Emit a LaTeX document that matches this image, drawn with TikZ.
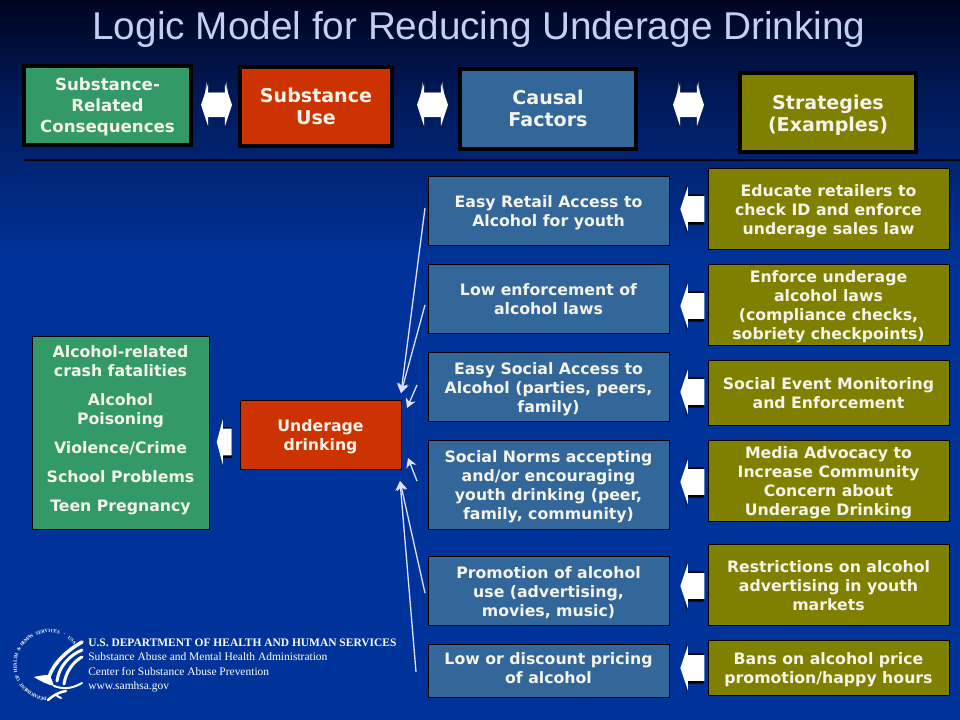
\documentclass[tikz,border=0pt]{standalone}
\usepackage{fontspec}
\setmainfont{DejaVu Sans}
\newfontfamily\titlefont{Liberation Sans}
\newfontfamily\logofont{Liberation Serif}
\usetikzlibrary{arrows.meta,shapes.arrows,calc}
\newcommand{\s}{0.75pt}
\definecolor{seagreen}{HTML}{339966}
\definecolor{brick}{HTML}{CC3300}
\definecolor{steel}{HTML}{336699}
\definecolor{olivebox}{HTML}{808000}
\definecolor{ink}{HTML}{F4F4EA}
\definecolor{titleblue}{HTML}{C3D0F2}
\definecolor{bgtop}{RGB}{0,4,32}
\definecolor{bgmid}{RGB}{0,26,90}
\definecolor{bgbot}{RGB}{0,51,153}
\newcommand{\blockleft}[3]{%
    \node[spike, shape border rotate=180] (#1-back) at ($(#2,#3)+(1.5,0.5)$) {};
    \node[whitespike, shape border rotate=180] (#1) at ($(#2,#3)+(1.5,0)$) {};
}
\newcommand{\blockboth}[3]{%
    \node[twospike] (#1-back) at (#2,#3) {};
    \node[whitetwospike] (#1) at (#2,#3) {};
}

\begin{document}
\begin{tikzpicture}[x=\s, y=-\s,
    box/.style={draw=black, line width=1*\s, outer sep=0pt, anchor=north west, inner sep=0pt, align=center, text depth=0pt, yshift=-0.4pt, text=ink, font=\fontsize{11.8pt}{14.25pt}\selectfont\bfseries},
    head/.style={box, line width=4*\s, font=\fontsize{14.3pt}{16.5pt}\selectfont\bfseries},
    spike/.style={single arrow, fill=black, inner xsep=0pt, inner ysep=12.8*\s, minimum height=20*\s, minimum width=52*\s, single arrow tip angle=167},
    whitespike/.style={single arrow, fill=white, inner xsep=0pt, inner ysep=12.5*\s, minimum height=24*\s, minimum width=30*\s, single arrow tip angle=143},
    twospike/.style={double arrow, top color=white, bottom color=black, inner xsep=0pt, inner ysep=11.5*\s, minimum height=26*\s, minimum width=46*\s, double arrow tip angle=165},
    whitetwospike/.style={double arrow, fill=white, inner xsep=0pt, inner ysep=11.5*\s, minimum height=31*\s, minimum width=30*\s, double arrow tip angle=143},
    wire/.style={draw=white!88!blue, line width=1.3*\s, -{Stealth[length=7pt,width=8pt]}},
    eagle/.style={draw=white, line cap=round}]
    \useasboundingbox (0,0) rectangle (960,720);
    % Background
    \fill[top color=bgtop, bottom color=bgmid] (0,0) rectangle (960,100);
    \fill[top color=bgmid, bottom color=bgbot] (0,100) rectangle (960,260);
    \fill[bgbot] (0,260) rectangle (960,720);

    % Title
    \node[text=titleblue, font=\titlefont\fontsize{29.06pt}{36pt}\selectfont, inner sep=0pt] (title) at (479,29) {Logic Model for Reducing Underage Drinking};

    % Header row
    \node[head, fill=seagreen, minimum width=167*\s, minimum height=79*\s, font=\fontsize{12.5pt}{15.9pt}\selectfont\bfseries] (consequences) at (24,65) {Substance-\\Related\\Consequences};
    \node[head, fill=brick, minimum width=152*\s, minimum height=79*\s] (use) at (240,66) {Substance\\Use};
    \node[head, fill=steel, minimum width=176*\s, minimum height=80*\s] (causal) at (460,68) {Causal\\Factors};
    \node[head, fill=olivebox, minimum width=176*\s, minimum height=79*\s] (strategies) at (740,72) {\mbox{}\\[-3.7pt]Strategies\\(Examples)};
    \blockboth{link-1}{216.5}{105}
    \blockboth{link-2}{432.5}{105}
    \blockboth{link-3}{688.5}{105}
    \coordinate (rule-l) at (24,160);
    \coordinate (rule-r) at (960,160);
    \draw[black, line width=2.5*\s] (rule-l) -- (rule-r);

    % Left side
    \node[box, fill=seagreen, minimum width=177*\s, minimum height=193*\s] (outcomes) at (32,336) {Alcohol-related\\crash fatalities\\[7.5pt]Alcohol\\Poisoning\\[7.5pt]Violence/Crime\\[7.5pt]School Problems\\[7.5pt]Teen Pregnancy\\[-8pt]\mbox{}};
    \node[box, fill=brick, minimum width=161*\s, minimum height=69*\s] (drinking) at (240,400) {Underage\\drinking};
    \node[spike, shape border rotate=180, minimum height=11*\s, inner ysep=13.5*\s, single arrow tip angle=171] (out-arrow-back) at (227,442.5) {};
    \node[whitespike, shape border rotate=180, minimum height=15*\s, inner ysep=13*\s, single arrow tip angle=150] (out-arrow) at (226,442) {};

    % Causal factors
    \node[box, fill=steel, minimum width=241*\s, minimum height=69*\s] (retail) at (428,176) {Easy Retail Access to\\Alcohol for youth};
    \node[box, fill=steel, minimum width=241*\s, minimum height=69*\s] (enforce) at (428,264) {Low enforcement of\\alcohol laws};
    \node[box, fill=steel, minimum width=241*\s, minimum height=69*\s] (social) at (428,352) {Easy Social Access to\\Alcohol (parties, peers,\\family)};
    \node[box, fill=steel, minimum width=241*\s, minimum height=89*\s] (norms) at (428,440) {Social Norms accepting\\and/or encouraging\\youth drinking (peer,\\family, community)};
    \node[box, fill=steel, minimum width=241*\s, minimum height=69*\s] (promo) at (428,556) {Promotion of alcohol\\use (advertising,\\movies, music)};
    \node[box, fill=steel, minimum width=241*\s, minimum height=53*\s] (pricing) at (428,644) {Low or discount pricing\\of alcohol\\[-10pt]\mbox{}};

    % Strategies
    \node[box, fill=olivebox, minimum width=241*\s, minimum height=81*\s] (educate) at (708,168) {Educate retailers to\\check ID and enforce\\underage sales law};
    \node[box, fill=olivebox, minimum width=241*\s, minimum height=81*\s] (laws) at (708,264) {Enforce underage\\alcohol laws\\(compliance checks,\\sobriety checkpoints)};
    \node[box, fill=olivebox, minimum width=241*\s, minimum height=65*\s] (monitor) at (708,360) {Social Event Monitoring\\and Enforcement};
    \node[box, fill=olivebox, minimum width=241*\s, minimum height=81*\s] (media) at (708,440) {Media Advocacy to\\Increase Community\\Concern about\\Underage Drinking};
    \node[box, fill=olivebox, minimum width=241*\s, minimum height=81*\s] (restrict) at (708,544) {Restrictions on alcohol\\advertising in youth\\markets};
    \node[box, fill=olivebox, minimum width=241*\s, minimum height=55*\s] (bans) at (708,640) {Bans on alcohol price\\promotion/happy hours};

    % Block arrows
    \blockleft{arrow-1}{693}{209}
    \blockleft{arrow-2}{693}{306}
    \blockleft{arrow-3}{693}{392}
    \blockleft{arrow-4}{693}{482}
    \blockleft{arrow-5}{693}{586}
    \blockleft{arrow-6}{693}{668}

    % Thin arrows
    \coordinate (tip-a) at (401,393);
    \coordinate (tip-b) at (407,408);
    \coordinate (tip-c) at (408,458);
    \coordinate (tip-d) at (400,481);
    \coordinate (from-a) at (425,208);
    \coordinate (from-b) at (425,305);
    \coordinate (from-c) at (417,385);
    \coordinate (from-d) at (417,481);
    \coordinate (from-e) at (425,593);
    \coordinate (from-f) at (416,672);
    \draw[wire] (from-a) -- (tip-a);
    \draw[wire] (from-b) -- (tip-a);
    \draw[wire] (from-c) -- (tip-b);
    \draw[wire] (from-d) -- (tip-c);
    \draw[wire] (from-e) -- (tip-d);
    \draw[wire] (from-f) -- (tip-d);

    % Logo
    \foreach \c [count=\i, evaluate=\i as \a using 97+221*(\i-1)/42] in {D,E,P,A,R,T,M,E,N,T,{},O,F,{},H,E,A,L,T,H,{},\&,{},H,U,M,A,N,{},S,E,R,V,I,C,E,S,{},-,{},U,S,A}
        \node[text=white, inner sep=0pt, rotate=-\a-90, font=\logofont\bfseries\fontsize{3.6pt}{4pt}\selectfont] (ring-\i) at ({49+34*cos(\a)},{665+34*sin(\a)}) {\c};
    \draw[eagle, line width=3.5*\s] (82,642) .. controls (68,650) and (54,662) .. (49,677);
    \fill[white] (34,677) .. controls (42,675) and (47,675) .. (50,675) -- (54,686) .. controls (46,684) and (40,681) .. (34,677) -- cycle;
    \draw[eagle, line width=3*\s] (82,650) .. controls (70,655) and (59,666) .. (57,681);
    \draw[eagle, line width=3*\s] (82,657) .. controls (74,661) and (66,671) .. (64,684);
    \draw[eagle, line width=2*\s] (54,686) .. controls (65,690) and (73,688) .. (82,683);
    \draw[eagle, line width=2.5*\s] (66,691) .. controls (60,692) and (55,694) .. (48,700);
    \draw[eagle, line width=2*\s] (56,694) .. controls (57,696) and (58,697) .. (61,698);
    \node[anchor=west, inner sep=0pt, align=left, text=white, font=\logofont\fontsize{8.6pt}{10.6pt}\selectfont] (agency) at (88,665.5) {{\bfseries U.S. DEPARTMENT OF HEALTH AND HUMAN SERVICES}\\Substance Abuse and Mental Health Administration\\Center for Substance Abuse Prevention\\www.samhsa.gov};
\end{tikzpicture}
\end{document}
